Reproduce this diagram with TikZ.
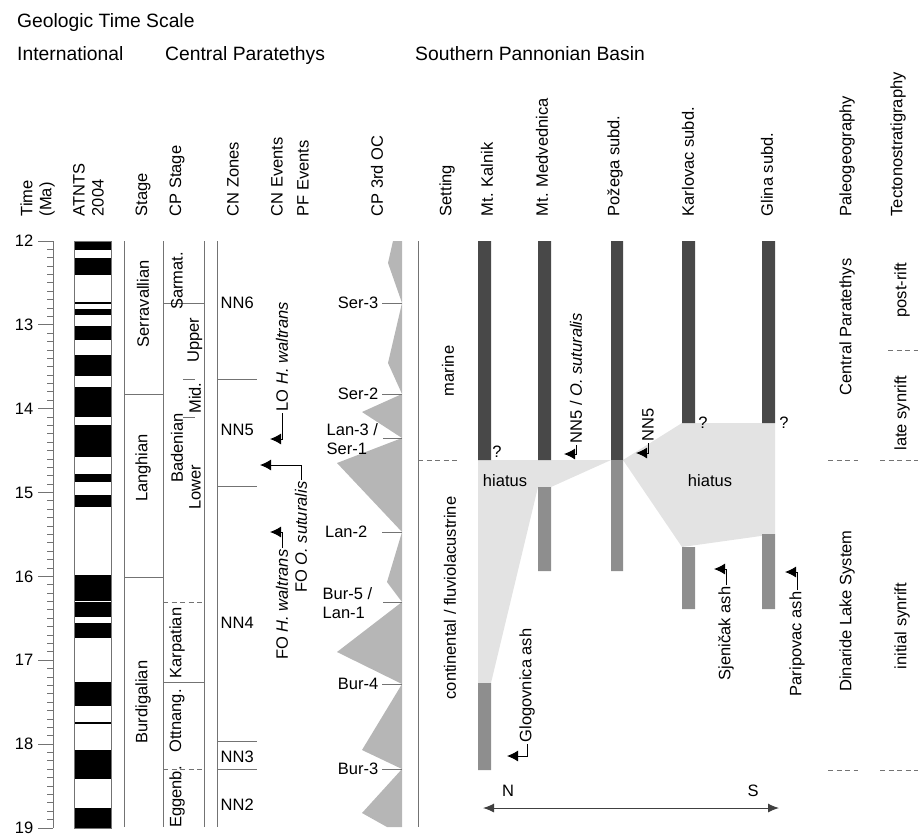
\documentclass[tikz,border=0pt]{standalone}
\usepackage{fontspec}
\setmainfont{Liberation Sans}
\usepackage{tikz}
\usetikzlibrary{arrows,arrows.meta}
\definecolor{darkbar}{RGB}{72,72,72}
\definecolor{midbar}{RGB}{142,142,142}
\definecolor{hiatgray}{RGB}{227,227,227}
\definecolor{seagray}{RGB}{182,182,182}
\definecolor{linegray}{RGB}{115,115,115}
\tikzset{
  lbl/.style={inner sep=1.5pt, font=\fontsize{16.5}{19}\selectfont},
  vlbl/.style={lbl, rotate=90},
  colhd/.style={lbl, rotate=90, anchor=west, align=left},
  hdr/.style={inner sep=0pt, anchor=base west, font=\fontsize{19.3}{22}\selectfont},
  gridln/.style={linegray, line width=1pt},
  evt/.style={-{Latex[length=11pt,width=11pt]}, line width=1pt},
}

\begin{document}
\begin{tikzpicture}[x=1pt,y=-1pt]
        \useasboundingbox (0,0) rectangle (920,836);
        % headers
        \node[hdr] (gts) at (17,27) {Geologic Time Scale};
        \node[hdr] (intl) at (17,60) {International};
        \node[hdr] (cpar) at (165,60) {Central Paratethys};
        \node[hdr] (spb) at (415,60) {Southern Pannonian Basin};
        \foreach \n/\x/\t in {htime/37.5/{Time\\(Ma)}, hatnts/88.5/{ATNTS\\2004}, hstage/143/Stage, hcps/177/CP Stage,
                hcnz/233/CN Zones, hcne/277/CN Events, hpfe/303/PF Events, hoc/377/CP 3rd OC, hset/447/Setting,
                hkal/487/Mt. Kalnik, hmed/542/Mt. Medvednica, hpoz/615/Požega subd., hkar/688/Karlovac subd.,
                hgli/767/Glina subd., hpal/847/Paleogeography, htec/898/Tectonostratigraphy}
        \node[colhd] (\n) at (\x,218) {\t};

        % time axis
        \draw[gridln] (53,241) -- (53,828);
        \foreach \k in {0,...,70} % minor ticks
        \draw[gridln] (47,{241+\k*8.386}) -- (53,{241+\k*8.386});
        \foreach \t [count=\k from 0] in {12,...,19} { % major ticks and numbers
        \draw[gridln] (38,{241+\k*83.86}) -- (53,{241+\k*83.86});
        \node[lbl, anchor=east] (t\t) at (35,{241+\k*83.86}) {\t};
        }

        % ATNTS 2004 polarity
        \foreach \a/\b in {12.0/12.11, 12.20/12.41, 12.73/12.75, 12.81/12.88, 13.01/13.18, 13.36/13.61, 13.74/14.10,
                14.19/14.57, 14.78/14.87, 15.03/15.17, 15.98/16.29, 16.31/16.48, 16.55/16.73, 17.26/17.54,
                17.73/17.76, 18.07/18.42, 18.76/19.0}
        \fill[black] (74,{241+(\a-12)*83.86}) rectangle (111,{241+(\b-12)*83.86});
        \draw[linegray, line width=0.6pt] (74,241) rectangle (111,828);

        % column lines
        \foreach \x in {124,163,204,217,418}
        \draw[gridln] (\x,241) -- (\x,827);
        \draw[gridln] (124,394) -- (163,394) (124,577) -- (163,577);
        \draw[gridln] (163,303) -- (204,303) (163,682) -- (204,682);
        \draw[gridln, dash pattern=on 5pt off 3.5pt] (163,602) -- (204,602) (163,769) -- (204,769);
        \draw[gridln] (183,379) -- (195,379) (183,417) -- (195,417);
        \foreach \y in {379,486,741,769} % CN zone limits
        \draw[gridln] (217,\y) -- (257,\y);

        % stages
        \node[vlbl] (serr) at (143,304) {Serravallian};
        \node[vlbl] (lang) at (143,468) {Langhian};
        \node[vlbl] (burd) at (143,702) {Burdigalian};
        \node[vlbl] (sarm) at (177,281) {Sarmat.};
        \node[vlbl] (bade) at (177,448) {Badenian};
        \node[vlbl] (bupp) at (195,340) {Upper};
        \node[vlbl] (bmid) at (195,398) {Mid.};
        \node[vlbl] (blow) at (195,487) {Lower};
        \node[vlbl] (karp) at (177,643) {Karpatian};
        \node[vlbl] (ottn) at (177,721) {Ottnang.};
        \node[vlbl] (egge) at (177,797) {Eggenb.};
        \foreach \n/\y in {6/303,5/430,4/623,3/757,2/805}
        \node[lbl, anchor=west] (nn\n) at (219,\y) {NN\n};

        % CN and PF events
        \node[vlbl, anchor=west] (lohw) at (282,413) {LO \textit{H. waltrans}};
        \draw[evt] (lohw.west) |- ++(-12,26);
        \node[vlbl, anchor=east] (fohw) at (282,548) {FO \textit{H. waltrans}};
        \draw[evt] (fohw.east) |- ++(-12,-16);
        \node[vlbl, anchor=east] (foos) at (301,480) {FO \textit{O. suturalis}};
        \draw[evt] (foos.east) |- ++(-41,-15);

        % CP 3rd order cycles
        \fill[seagray] (402,241) -- (393,241) -- (388,263) -- (402,303) -- (388,363) -- (402,394) -- (362,412)
                -- (402,438) -- (337,463) -- (402,532) -- (387,582) -- (402,602) -- (337,652) -- (402,684)
                -- (362,750) -- (402,769) -- (362,813) -- (387,827) -- (402,827) -- cycle;
        \foreach \n/\x/\y/\t in {ser3/380/303/Ser-3, ser2/380/394/Ser-2, lan2/369/532/Lan-2, bur4/380/684/Bur-4, bur3/380/769/Bur-3}{
        \node[lbl, anchor=east] (\n) at (\x,\y) {\t};
        \draw[gridln] (382,\y) -- (402,\y);
        }
        \node[lbl, anchor=west, align=left] (lan3) at (325,439) {Lan-3 /\\Ser-1};
        \draw[gridln] (383,438) -- (402,438);
        \node[lbl, anchor=west, align=left] (bur5) at (321,603) {Bur-5 /\\Lan-1};
        \draw[gridln] (383,602) -- (402,602);

        % setting
        \node[vlbl] (mar) at (448,371) {marine};
        \node[vlbl] (cont) at (450,598) {continental / fluviolacustrine};
        \draw[gridln, dash pattern=on 5pt off 3.5pt] (418,460) -- (458,460);

        % basin sections
        \fill[hiatgray] (478,460) -- (611,460) -- (551,487) -- (538,487) -- (491,683) -- (478,683) -- cycle;
        \fill[hiatgray] (623,460) -- (682,423) -- (775,423) -- (775,534) -- (682,547) -- cycle;
        \fill[darkbar] (478,241) rectangle (491,460) (538,241) rectangle (551,460) (611,241) rectangle (623,460)
                (682,241) rectangle (695,423) (762,241) rectangle (775,423);
        \fill[midbar] (478,683) rectangle (491,770) (538,487) rectangle (551,571) (611,460) rectangle (623,571)
                (682,547) rectangle (695,609) (762,534) rectangle (775,609);
        \node[lbl] (hia1) at (505,481) {hiatus};
        \node[lbl] (hia2) at (710,481) {hiatus};
        \node[lbl] (q1) at (497,452) {?};
        \node[lbl] (q2) at (703,423) {?};
        \node[lbl] (q3) at (784,423) {?};
        \node[vlbl, anchor=west] (nn5os) at (576,445) {NN5 / \textit{O. suturalis}};
        \draw[evt] (nn5os.west) |- ++(-12,9);
        \node[vlbl, anchor=west] (nn5p) at (648,443) {NN5};
        \draw[evt] (nn5p.west) |- ++(-12,10);
        \node[vlbl, anchor=west] (glog) at (527,744) {Glogovnica ash};
        \draw[evt] (glog.west) |- ++(-20,12);
        \node[vlbl, anchor=east] (sjen) at (726,585) {Sjeničak ash};
        \draw[evt] (sjen.east) |- ++(-12,-16);
        \node[vlbl, anchor=east] (parip) at (797,590) {Paripovac ash};
        \draw[evt] (parip.east) |- ++(-12,-18);
        \coordinate (nend) at (483,808);
        \coordinate (send) at (779,808);
        \draw[{Latex[length=11pt,width=9pt]}-{Latex[length=11pt,width=9pt]}, line width=1pt, black!75] (nend) -- (send);
        \node[lbl] (north) at (508,791) {N};
        \node[lbl] (south) at (753,791) {S};

        % paleogeography and tectonostratigraphy
        \node[vlbl] (cpt) at (847,327) {Central Paratethys};
        \node[vlbl] (dls) at (847,611) {Dinaride Lake System};
        \node[vlbl] (post) at (902,290) {post-rift};
        \node[vlbl] (late) at (902,413) {late synrift};
        \node[vlbl] (init) at (902,626) {initial synrift};
        \draw[gridln, dash pattern=on 5pt off 3.5pt] (888,350) -- (918,350)
                (828,460) -- (858,460) (880,460) -- (918,460)
                (828,770) -- (858,770) (880,770) -- (918,770);
\end{tikzpicture}
\end{document}
